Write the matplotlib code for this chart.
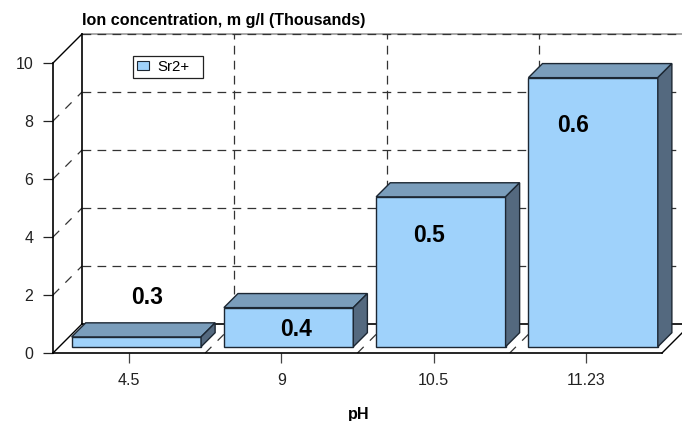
import matplotlib
matplotlib.use("Agg")
import matplotlib.pyplot as plt
from matplotlib.patches import Patch, Polygon

plt.rcParams['font.family'] = ['Liberation Sans', 'DejaVu Sans']

# values
categories = ['4.5', '9', '10.5', '11.23']
heights = [0.34, 1.35, 5.17, 9.28]
bar_labels = ['0.3', '0.4', '0.5', '0.6']
y_ticks = [0, 2, 4, 6, 8, 10]
series_name = 'Sr2+'

W, H = 682, 421
LEFT, RIGHT, BOTTOM, TOP = 53, 662, 353, 63

FRONT = '#9FD2FB'
ROOF = '#7A9DBB'
SIDE = '#54697F'
EDGE = '#1c2733'

# oblique offset of the chart box: 29 px right and up, in data units
DEPTH_X = 29 / 152.25
DEPTH_Y = 1.0
BAR_WIDTH = 0.85
BAR_NUDGE = 1 / 152.25
BAR_FRONT = 0.215
BAR_BACK = 0.70


def shift(x, y, depth):
    return x + depth * DEPTH_X, y + depth * DEPTH_Y


fig = plt.figure(figsize=(W / 100, H / 100), dpi=100)
ax = fig.add_axes([LEFT / W, 1 - BOTTOM / H, (RIGHT - LEFT) / W, (BOTTOM - TOP) / H])
ax.set_xlim(-0.5, 3.5)
ax.set_ylim(0, 10)
ax.patch.set_visible(False)

x_pos = list(range(len(categories)))
x_left, x_right = -0.5, 3.5

# back wall, floor and side wall lines
dash = dict(color='#333333', lw=0.9, dashes=(7, 5), clip_on=False, zorder=1)
for v in y_ticks:
    x0, y0 = shift(x_left, v, 1)
    x1, y1 = shift(x_right, v, 1)
    if v == 0:
        ax.plot([x0, x1], [y0, y1], color='black', lw=1.2, clip_on=False, zorder=1)
    else:
        if v == 10:
            ax.plot([x0, x1], [y0, y1], color='#999999', lw=1.2, clip_on=False, zorder=1)
        ax.plot([x0, x1], [y0, y1], **dash)
    wall_x, wall_y = shift(x_left, v, 1)
    if v in (0, 10):
        ax.plot([x_left, wall_x], [v, wall_y], color='black', lw=1.0, clip_on=False, zorder=1)
    else:
        ax.plot([x_left, wall_x], [v, wall_y], **{**dash, 'dashes': (7, 7)})

for b in [0.5, 1.5, 2.5]:
    x0, y0 = shift(b, 0, 1)
    x1, y1 = shift(b, 10, 1)
    ax.plot([x0, x1], [y0, y1], **dash)
    ax.plot([b, x0], [0, y0], **{**dash, 'dashes': (7, 7)})

x0, y0 = shift(x_left, 0, 1)
x1, y1 = shift(x_left, 10, 1)
ax.plot([x0, x1], [y0, y1], color='black', lw=1.2, clip_on=False, zorder=1)
x0, y0 = shift(x_right, 0, 1)
ax.plot([x_right, x0], [0, y0], color='black', lw=1.0, clip_on=False, zorder=1)

# bars: front face with ax.bar, roof and side as polygons
for x, h in zip(x_pos, heights):
    lo = x + BAR_NUDGE - BAR_WIDTH / 2
    hi = x + BAR_NUDGE + BAR_WIDTH / 2
    fx, fy = shift(x + BAR_NUDGE, 0, BAR_FRONT)
    ax.bar(fx, h, BAR_WIDTH, bottom=fy, color=FRONT, edgecolor=EDGE, lw=1.0, zorder=3, clip_on=False)
    roof = [shift(lo, h, BAR_FRONT), shift(hi, h, BAR_FRONT), shift(hi, h, BAR_BACK), shift(lo, h, BAR_BACK)]
    side = [shift(hi, 0, BAR_FRONT), shift(hi, 0, BAR_BACK), shift(hi, h, BAR_BACK), shift(hi, h, BAR_FRONT)]
    ax.add_patch(Polygon(roof, closed=True, fc=ROOF, ec=EDGE, lw=1.0, zorder=3, clip_on=False))
    ax.add_patch(Polygon(side, closed=True, fc=SIDE, ec=EDGE, lw=1.0, zorder=3, clip_on=False))

# value labels, placed by hand like in the original
label_px = [(147, 297), (296, 330), (429, 236), (573, 125)]
for txt, (px, py) in zip(bar_labels, label_px):
    fig.text(px / W, 1 - py / H, txt, fontsize=16.5, fontweight='bold', ha='center', va='center', zorder=5)

for name in ['top', 'right']:
    ax.spines[name].set_visible(False)
for name in ['left', 'bottom']:
    ax.spines[name].set_linewidth(1.2)
    ax.spines[name].set_color('black')
    ax.spines[name].set_zorder(4)

ax.set_yticks(y_ticks)
ax.set_xticks(x_pos)
ax.set_xticklabels(categories)
ax.tick_params(axis='y', length=7.2, width=0.9, pad=7, labelsize=11.5, color='#222222', labelcolor='#222222')
ax.tick_params(axis='x', length=7.2, width=0.9, pad=7, labelsize=11.5, color='#444444', labelcolor='#222222')

fig.text(82 / W, 1 - 21 / H, 'Ion concentration, m g/l (Thousands)', fontsize=11.6, fontweight='bold',
         ha='left', va='center')
fig.text(359 / W, 1 - 414 / H, 'pH', fontsize=11.6, fontweight='bold', ha='center', va='center')

handle = Patch(facecolor=FRONT, edgecolor=EDGE, lw=0.8, label=series_name)
# mode='expand' stretches the frame to the box width of the original legend
leg = fig.legend(handles=[handle], loc='upper left', bbox_to_anchor=(133 / W, 1 - 78 / H, 70 / W, 22 / H),
                 mode='expand', fontsize=10.8, fancybox=False, framealpha=1, edgecolor='#222222',
                 handlelength=0.8, handleheight=0.55, handletextpad=0.6,
                 borderaxespad=0, borderpad=0.25)
leg.get_frame().set_linewidth(0.9)
leg.set_zorder(6)

fig.savefig('out.png', dpi=100)
